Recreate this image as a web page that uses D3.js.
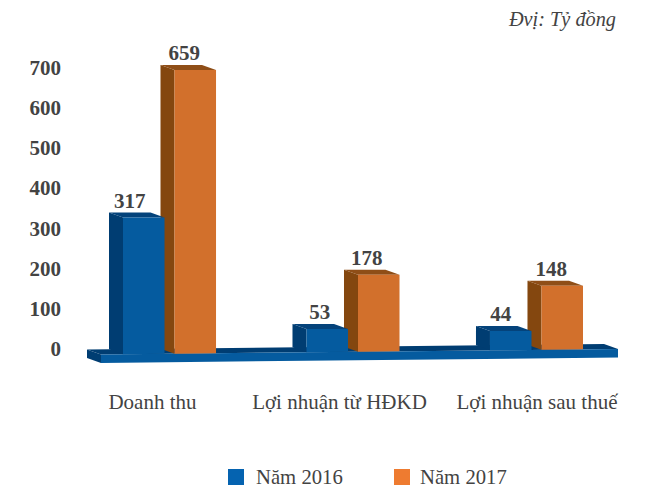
<!DOCTYPE html>
<html>
<head>
<meta charset="utf-8">
<script src="https://cdn.jsdelivr.net/npm/d3@7"></script>
<style>
  html, body { margin: 0; padding: 0; background: #fff; }
  text { font-family: "Liberation Serif", serif; fill: #434343; }
</style>
</head>
<body>
<div id="canvas"></div>
<script>
const width = 652;
const height = 493;

// Data
const categories = ["Doanh thu", "Lợi nhuận từ HĐKD", "Lợi nhuận sau thuế"];
const seriesNames = ["Năm 2016", "Năm 2017"];
const values2016 = [317, 53, 44];
const values2017 = [659, 178, 148];
const tickLabels = [0, 100, 200, 300, 400, 500, 600, 700];

const colors = {
  "Năm 2016": { front: "#055b9f", side: "#003d72", top: "#04437b", legend: "#0563b0" },
  "Năm 2017": { front: "#d2702c", side: "#84470f", top: "#8f4e17", legend: "#ee7b30" }
};
const depth = [-14, -5]; // 3d offset of the back face

let svg = d3.select("#canvas").append("svg")
  .attr("width", width)
  .attr("height", height)
  .style("display", "block");

const x0 = d3.scaleBand().domain(categories).range([123, 583]).paddingInner(0.493);
const x1 = d3.scaleBand().domain(seriesNames).range([0, x0.bandwidth()]).paddingInner(0.194);

// the floor is drawn tilted, so the bars sit on a sloping base
const baseY = d3.scaleLinear().domain([101, 618]).range([354.5, 349]);
// px per unit of the bars
const barHeight = d3.scaleLinear().domain([0, 700]).range([0, 301]);
// the tick labels in the source don't line up with bar heights, they have their own scale
const tickY = d3.scaleLinear().domain([0, 700]).range([349, 68]);

function pts(list) {
  return list.map(p => p.join(",")).join(" ");
}

function drawFloor() {
  const l = 101, r = 618, th = 8.5;
  const g = svg.append("g").attr("class", "floor");
  const back = (x, y) => [x + depth[0], y + depth[1]];
  const fl = [l, baseY(l)], fr = [r, baseY(r)];
  g.append("polygon").attr("points", pts([back(...fl), back(...fr), fr, fl])).attr("fill", colors["Năm 2016"].side);
  g.append("polygon")
    .attr("points", pts([back(...fl), fl, [l, fl[1] + th], [l + depth[0], fl[1] + th + depth[1]]]))
    .attr("fill", colors["Năm 2016"].side);
  g.append("polygon")
    .attr("points", pts([fl, fr, [r, fr[1] + th], [l, fl[1] + th]]))
    .attr("fill", colors["Năm 2016"].front);
}

function drawBar(cat, name, value, labelDx) {
  const c = colors[name];
  const xl = x0(cat) + x1(name);
  const xr = xl + x1.bandwidth();
  const bl = baseY(xl), br = baseY(xr);
  const h = barHeight(value);
  const topY = d3.min([bl, br]) - h;
  const [dx, dy] = depth;
  const g = svg.append("g").attr("class", "bar");

  g.append("polygon")
    .attr("points", pts([[xl + dx, topY + dy], [xl, topY], [xl, bl], [xl + dx, bl + dy]]))
    .attr("fill", c.side);
  g.append("polygon")
    .attr("points", pts([[xl + dx, topY + dy], [xr + dx, topY + dy], [xr, topY], [xl, topY]]))
    .attr("fill", c.top);
  g.append("polygon")
    .attr("points", pts([[xl, topY], [xr, topY], [xr, br], [xl, bl]]))
    .attr("fill", c.front);

  g.append("text")
    .attr("x", (xl + xr) / 2 + labelDx)
    .attr("y", topY + dy - 5)
    .attr("text-anchor", "middle")
    .attr("font-size", 21)
    .attr("font-weight", "bold")
    .text(value);
}

drawFloor();
// orange first, the blue front face overlaps the orange side
const labelDx2016 = [-14, -7.5, -10];
const labelDx2017 = [-11, -12, -11];
categories.forEach((cat, i) => {
  drawBar(cat, seriesNames[1], values2017[i], labelDx2017[i]);
  drawBar(cat, seriesNames[0], values2016[i], labelDx2016[i]);
});

// Tick labels
svg.append("g").selectAll("text").data(tickLabels).enter()
  .append("text")
  .attr("x", 61)
  .attr("y", d => tickY(d) + 7)
  .attr("text-anchor", "end")
  .attr("font-size", 21)
  .attr("font-weight", "bold")
  .text(d => d);

// Category labels
const labelX = [152.5, 339.5, 537];
svg.append("g").selectAll("text").data(categories).enter()
  .append("text")
  .attr("x", (d, i) => labelX[i])
  .attr("y", 409)
  .attr("text-anchor", "middle")
  .attr("font-size", 21)
  .text(d => d);

// Unit
svg.append("text")
  .attr("x", 616)
  .attr("y", 26)
  .attr("text-anchor", "end")
  .attr("font-size", 20.3)
  .attr("font-style", "italic")
  .text("Đvị: Tỷ đồng");

// Legend
const legendX = [228, 394];
const legendTextDx = [28, 26];
const legend = svg.append("g").selectAll("g").data(seriesNames).enter()
  .append("g")
  .attr("transform", (d, i) => `translate(${legendX[i]},469)`);
legend.append("rect")
  .attr("width", 16)
  .attr("height", 16)
  .attr("fill", d => colors[d].legend);
legend.append("text")
  .attr("x", (d, i) => legendTextDx[i])
  .attr("y", 15)
  .attr("font-size", 20.7)
  .text(d => d);
</script>
</body>
</html>
